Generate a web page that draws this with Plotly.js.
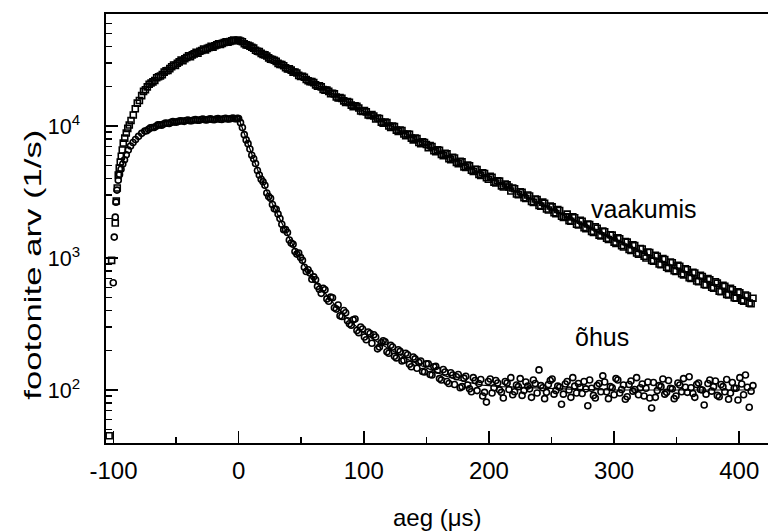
<!DOCTYPE html>
<html>
<head>
<meta charset="utf-8">
<script src="https://cdn.plot.ly/plotly-3.0.1.min.js"></script>
<style>html,body{margin:0;padding:0;background:#fff;}#chart{width:768px;height:532px;}</style>
</head>
<body>
<div id="chart"></div>
<script>
// time grids of the decay part (µs)
const tDecay = [0,3,6,9,12,15,18,21,24,27,30,33,36,39,42,45,48,51,54,57,60,63,66,69,72,75,78,81,84,87,90,93,96,99,102,105,108,111,114,117,120,123,126,129,132,135,138,141,144,147,150,153,156,159,162,165,168,171,174,177,180,183,186,189,192,195,198,201,204,207,210,213,216,219,222,225,228,231,234,237,240,243,246,249,252,255,258,261,264,267,270,273,276,279,282,285,288,291,294,297,300,303,306,309,312,315,318,321,324,327,330,333,336,339,342,345,348,351,354,357,360,363,366,369,372,375,378,381,384,387,390,393,396,399,402,405,408,411];
const tDecayB = [1.5,4.5,7.5,10.5,13.5,16.5,19.5,22.5,25.5,28.5,31.5,34.5,37.5,40.5,43.5,46.5,49.5,52.5,55.5,58.5,61.5,64.5,67.5,70.5,73.5,76.5,79.5,82.5,85.5,88.5,91.5,94.5,97.5,100.5,103.5,106.5,109.5,112.5,115.5,118.5,121.5,124.5,127.5,130.5,133.5,136.5,139.5,142.5,145.5,148.5,151.5,154.5,157.5,160.5,163.5,166.5,169.5,172.5,175.5,178.5,181.5,184.5,187.5,190.5,193.5,196.5,199.5,202.5,205.5,208.5,211.5,214.5,217.5,220.5,223.5,226.5,229.5,232.5,235.5,238.5,241.5,244.5,247.5,250.5,253.5,256.5,259.5,262.5,265.5,268.5,271.5,274.5,277.5,280.5,283.5,286.5,289.5,292.5,295.5,298.5,301.5,304.5,307.5,310.5,313.5,316.5,319.5,322.5,325.5,328.5,331.5,334.5,337.5,340.5,343.5,346.5,349.5,352.5,355.5,358.5,361.5,364.5,367.5,370.5,373.5,376.5,379.5,382.5,385.5,388.5,391.5,394.5,397.5,400.5,403.5,406.5,409.5];

// "vaakumis" (squares): rise part
const tRiseVac = [-103.5,-101.5,-98.6,-97.8,-97.0,-96.2,-95.4,-94.6,-93.8,-93.0,-92.2,-91.0,-89.8,-88.6,-87.4,-86.0,-84.2,-82.6,-81.0,-79.3,-77.5,-76.0,-73,-70,-67,-64,-61,-58,-55,-52,-49,-46,-43,-40,-37,-34,-31,-28,-25,-22,-19,-16,-13,-10,-7,-4,-1];
const yRiseVac = [45,960,1840,2700,3390,4250,4800,5340,5900,6580,7430,8100,8850,9600,10180,11000,12100,13500,14900,15600,17000,18300,19800,21200,22100,23600,24500,26200,27200,29000,29900,31600,32300,34000,34600,36200,36800,38300,38700,40200,40600,42000,42300,43500,43700,44700,44600];
const tRiseVacB = [-74.5,-71.5,-68.5,-65.5,-62.5,-59.5,-56.5,-53.5,-50.5,-47.5,-44.5,-41.5,-38.5,-35.5,-32.5,-29.5,-26.5,-23.5,-20.5,-17.5,-14.5,-11.5,-8.5,-5.5,-2.5];
const yRiseVacB = [18800,20700,21600,23200,23900,25600,26300,28100,28800,30600,31200,33000,33500,35200,35600,37300,37700,39300,39600,41200,41500,42900,43100,44300,44300];
// "vaakumis" decay part
const yDecayVac = [44600,43500,41200,40300,38900,36800,35500,34600,32800,31900,30900,29300,28600,27100,26500,25600,24200,23800,22500,21700,21300,20000,19800,18700,18300,17700,16600,16400,15500,15300,14400,14200,13700,12900,12800,12000,11900,11500,10700,10700,10000,10000,9300,9300,8700,8700,8100,8100,7500,7600,7250,7100,6500,6600,6100,6200,5650,5800,5300,5400,4900,5050,4620,4700,4300,4420,4050,4150,3760,3850,3520,3640,3450,3390,3050,3180,2860,3000,2680,2800,2500,2650,2350,2480,2200,2330,2070,2050,1920,2050,1800,1930,1700,1810,1590,1720,1490,1600,1410,1500,1320,1420,1240,1330,1160,1260,1090,1180,1030,1110,960,1050,900,990,850,930,800,880,760,830,710,780,670,740,630,700,600,660,560,620,530,590,500,555,480,525,455,495];
const yDecayVacB = [44100,42000,40900,39500,37500,36600,34800,33900,32100,31500,29800,29200,27600,27100,25600,25200,23700,23400,22000,21700,20500,20200,18900,18700,17600,17500,16300,16200,15100,15100,14000,14100,13000,13100,12100,12200,11300,11400,10500,10600,9750,9900,9100,9250,8450,8650,7850,8050,7350,7500,6850,7000,6400,6550,5950,6150,5550,5720,5180,5350,4850,4990,4520,4680,4230,4370,3950,4090,3700,3820,3450,3580,3220,3350,3020,3140,2820,2950,2640,2770,2470,2600,2310,2440,2170,2290,2030,2150,1900,2020,1780,1900,1670,1790,1560,1680,1470,1580,1380,1490,1290,1400,1210,1320,1140,1240,1070,1170,1000,1100,945,1030,890,975,835,920,790,865,745,815,700,770,660,725,625,685,590,645,555,610,525,575,495,545,470,515,450];

// "õhus" (circles): rise part
const tRiseAir = [-100.2,-99.4,-98.6,-98.0,-97.2,-96.2,-95.2,-94.0,-92.6,-91.2,-89.8,-88.2,-86.4,-84.4,-82.4,-80.0,-77.5,-75,-72,-69,-66,-63,-60,-57,-54,-51,-48,-45,-42,-39,-36,-33,-30,-27,-24,-21,-18,-15,-12,-9,-6,-3,-1];
const yRiseAir = [650,1440,2040,2650,3270,3890,4300,4700,5150,5550,6050,6580,7050,7500,7900,8350,8800,9150,9450,9750,9950,10200,10350,10500,10650,10700,10850,10900,11000,10950,11100,11050,11200,11150,11250,11200,11300,11250,11350,11300,11400,11350,11450];
const tRiseAirB = [-73.5,-70.5,-67.5,-64.5,-61.5,-58.5,-55.5,-52.5,-49.5,-46.5,-43.5,-40.5,-37.5,-34.5,-31.5,-28.5,-25.5,-22.5,-19.5,-16.5,-13.5,-10.5,-7.5,-4.5,-1.5];
const yRiseAirB = [9200,9700,9750,10200,10150,10550,10450,10800,10700,10950,10850,11100,10950,11200,11050,11300,11100,11350,11150,11400,11200,11450,11300,11500,11350];
// "õhus" decay part
const yDecayAir = [11400,9750,7850,6700,5650,4600,3950,3560,2920,2540,2340,1990,1640,1560,1300,1120,1090,960,790,770,720,610,540,575,470,500,410,365,400,335,310,345,272,290,240,268,262,205,228,232,190,212,175,196,168,185,150,172,162,138,158,131,150,141,119,137,112,130,126,104,123,109,97,118,112,90,81,121,104,113,96,116,101,92,109,122,99,107,88,112,142,104,96,118,93,107,78,111,100,124,95,105,116,76,103,87,112,128,97,106,92,119,101,85,110,98,124,104,90,115,73,88,108,121,96,103,86,113,97,105,126,94,110,101,77,112,98,117,89,106,120,95,103,84,111,130,74,108];
const yDecayAirB = [10600,8600,7350,6000,5200,4250,3780,3110,2830,2360,2150,1800,1640,1370,1270,1070,1010,850,815,690,685,580,590,490,505,420,440,360,385,318,340,282,300,252,275,226,252,212,236,195,218,180,202,166,190,157,178,146,166,137,158,130,151,122,143,116,135,110,131,106,127,102,124,99,120,96,116,95,118,100,87,113,124,97,106,91,115,102,119,95,108,86,110,121,99,105,93,116,88,107,112,94,102,119,91,108,97,115,86,104,122,95,109,89,117,101,92,111,103,87,114,99,106,93,118,102,90,109,122,96,104,88,113,100,93,119,106,91,110,97,85,114,103,124,92,105,98];

// fitted curves
const tFitVac = [0,30,60,90,120,150,180,210,240,270,300,330,360,390,411];
const yFitVac = [44875,30630,21060,14590,10185,7165,5080,3627,2610,1892,1383,1018,755,564,467];
const tFitAir = [0,3,6,9,12,15,18,21,24,27,30,36,42,48,54,60,66,72,78,84,90,99,108,120,135,150,165,180,195,210,240,270,300,350,411];
const yFitAir = [11500,9600,8000,6600,5550,4700,4000,3430,2970,2580,2250,1710,1320,1040,835,690,585,498,428,372,327,276,240,205,171,147,128,116,109,106,103,101,100,100,100];

// axis ticks
const xTicks = [-100,0,100,200,300,400];
const xMinor = [-50,50,150,250,350];
const yTicks = [100,1000,10000];
const yTickText = ['10<sup>2</sup>','10<sup>3</sup>','10<sup>4</sup>'];
const yMinor = [40,50,60,70,80,90,200,300,400,500,600,700,800,900,2000,3000,4000,5000,6000,7000,8000,9000,20000,30000,40000,50000,60000,70000];

const labels = {vac:'vaakumis', air:'õhus', x:'aeg (μs)', y:'footonite arv (1/s)'};

const FONT = 'Liberation Sans, Arial, sans-serif';
const sq = {symbol:'square-open', size:6, color:'#000', line:{width:1.6, color:'#000'}};
const ci = {symbol:'circle-open', size:6, color:'#000', line:{width:1.6, color:'#000'}};
const traces = [
  {x: tRiseVac.concat(tRiseVacB, tDecay, tDecayB), y: yRiseVac.concat(yRiseVacB, yDecayVac, yDecayVacB),
   mode:'markers', type:'scatter', marker:sq, hoverinfo:'skip'},
  {x: tRiseAir.concat(tRiseAirB, tDecay, tDecayB), y: yRiseAir.concat(yRiseAirB, yDecayAir, yDecayAirB),
   mode:'markers', type:'scatter', marker:ci, hoverinfo:'skip'},
  {x: tFitVac, y: yFitVac, mode:'lines', type:'scatter', line:{color:'#000', width:1.2}, hoverinfo:'skip'},
  {x: tFitAir, y: yFitAir, mode:'lines', type:'scatter', line:{color:'#000', width:1.2}, hoverinfo:'skip'}
];

const layout = {
  width:768, height:532,
  margin:{l:106, r:0, t:14, b:89},
  paper_bgcolor:'#fff', plot_bgcolor:'#fff',
  showlegend:false,
  font:{family:FONT, color:'#000', size:24},
  xaxis:{
    range:[-106, 423], showgrid:false, zeroline:false,
    showline:true, linecolor:'#000', linewidth:1.6, mirror:true,
    ticks:'inside', ticklen:12, tickwidth:1.5, tickcolor:'#000',
    tickmode:'array', tickvals:xTicks, ticktext:xTicks.map(String),
    tickfont:{family:FONT, size:24, color:'#000'},
    ticklabelstandoff:6,
    minor:{ticks:'inside', ticklen:6, tickwidth:1.5, tickcolor:'#000', tickmode:'array', tickvals:xMinor}
  },
  yaxis:{
    type:'log', range:[1.5985, 4.8485], showgrid:false, zeroline:false,
    showline:true, linecolor:'#000', linewidth:1.6,
    ticks:'inside', ticklen:12, tickwidth:1.5, tickcolor:'#000',
    tickmode:'array', tickvals:yTicks, ticktext:yTickText,
    tickfont:{family:FONT, size:21.5, color:'#000'},
    ticklabelstandoff:20,
    minor:{ticks:'inside', ticklen:6, tickwidth:1.5, tickcolor:'#000', tickmode:'array', tickvals:yMinor}
  },
  annotations:[
    {text:labels.vac, xref:'paper', yref:'paper', x:0.8134, y:0.5466, xanchor:'center', yanchor:'middle', showarrow:false, font:{family:FONT, size:25, color:'#000'}},
    {text:labels.air, xref:'paper', yref:'paper', x:0.7488, y:0.2471, xanchor:'center', yanchor:'middle', showarrow:false, font:{family:FONT, size:25, color:'#000'}},
    {text:labels.x, xref:'paper', yref:'paper', x:0.5, y:-0.1748, xanchor:'center', yanchor:'middle', showarrow:false, font:{family:FONT, size:24, color:'#000'}},
    {text:labels.y, xref:'paper', yref:'paper', x:-0.1118, y:0.4172, xanchor:'center', yanchor:'middle', textangle:-90, showarrow:false, font:{family:FONT, size:24, color:'#000'}}
  ]
};

Plotly.newPlot('chart', traces, layout, {staticPlot:true, displayModeBar:false}).then(function(gd){
  gd.querySelectorAll('.annotation-text').forEach(function(t){
    if (t.textContent.indexOf('footonite') === 0) {
      t.setAttribute('textLength', '270');
      t.setAttribute('lengthAdjust', 'spacingAndGlyphs');
    }
  });
});
</script>
</body>
</html>
